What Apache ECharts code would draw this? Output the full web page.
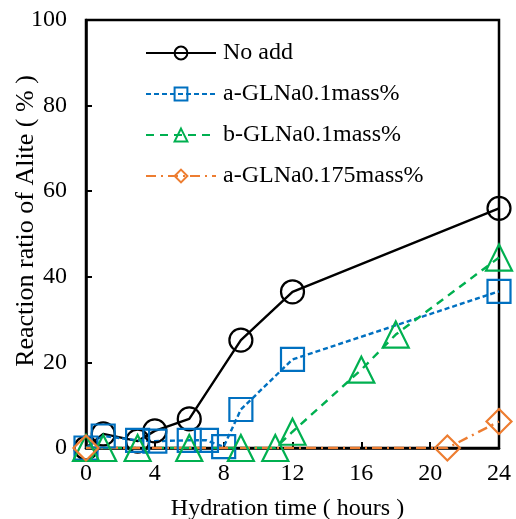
<!DOCTYPE html>
<html>
<head>
<meta charset="utf-8">
<script src="https://cdn.jsdelivr.net/npm/echarts@6/dist/echarts.min.js"></script>
<style>
  html, body { margin: 0; padding: 0; background: #fff; }
  #main { width: 516px; height: 519px; }
</style>
</head>
<body>
<div id="main"></div>
<script>
// data: [hours, reaction ratio %]
let noAdd = [[0, 0], [1, 3.3], [3, 1.6], [4, 4.0], [6, 6.8], [9, 25.2], [12, 36.5], [24, 56]];
let aGLNa01 = [[0, 0], [1, 2.8], [3, 1.8], [4, 1.6], [6, 1.8], [7, 1.8], [8, 0.3], [9, 9], [12, 20.7], [24, 36.6]];
let bGLNa01 = [[0, 0], [1, 0], [3, 0], [6, 0], [9, 0], [11, 0], [12, 3.8], [16, 18.3], [18, 26.5], [24, 44.5]];
let aGLNa0175 = [[0, 0], [21, 0], [24, 6.2]];
let seriesNames = ['No add', 'a-GLNa0.1mass%', 'b-GLNa0.1mass%', 'a-GLNa0.175mass%'];

let font = 'Liberation Serif';

let myChart = echarts.init(document.getElementById('main'));

let makeSeries = function(name, data, color, dash, symbol, size){
    return {
        name: name,
        type: 'line',
        data: data,
        symbol: symbol,
        symbolSize: size,
        lineStyle: { color: color, width: 2.4, type: dash },
        itemStyle: { color: 'rgba(0,0,0,0)', borderColor: color, borderWidth: 2.2 },
        emphasis: { disabled: true },
        animation: false
    };
};

let option = {
    animation: false,
    grid: {
        left: 86, right: 17, top: 20, bottom: 71,
        containLabel: false, outerBoundsMode: 'none',
        show: true, borderColor: '#000', borderWidth: 2.5
    },
    legend: {
        orient: 'vertical',
        left: 145, top: 41, padding: 0,
        itemWidth: 70, itemHeight: 16, itemGap: 17,
        data: seriesNames,
        textStyle: { fontFamily: font, fontSize: 24, color: '#000', padding: [0, 0, 0, 2] }
    },
    xAxis: {
        type: 'value', min: 0, max: 24, interval: 4,
        name: 'Hydration time ( hours )',
        nameLocation: 'middle', nameGap: 49, nameMoveOverlap: false,
        nameTextStyle: { fontFamily: font, fontSize: 24, color: '#000', padding: [0, 10, 0, 0] },
        axisLine: { lineStyle: { color: '#000', width: 2.5 } },
        axisTick: { inside: true, length: 6, lineStyle: { color: '#000', width: 2 } },
        axisLabel: { fontFamily: font, fontSize: 24, color: '#000', margin: 14 },
        splitLine: { show: false }
    },
    yAxis: {
        type: 'value', min: 0, max: 100, interval: 20,
        name: 'Reaction ratio of Alite ( % )',
        nameLocation: 'middle', nameGap: 47, nameMoveOverlap: false,
        nameTextStyle: { fontFamily: font, fontSize: 26, color: '#000', padding: [0, 0, 0, 26] },
        axisLine: { show: true, lineStyle: { color: '#000', width: 2.5 } },
        axisTick: { show: true, inside: true, length: 6, lineStyle: { color: '#000', width: 2 } },
        axisLabel: { fontFamily: font, fontSize: 24, color: '#000', margin: 19 },
        splitLine: { show: false }
    },
    series: [
        makeSeries(seriesNames[0], noAdd, '#000000', 'solid', 'circle', 23),
        makeSeries(seriesNames[1], aGLNa01, '#0070C0', [5, 3], 'rect', 23),
        makeSeries(seriesNames[2], bGLNa01, '#00B050', [8, 6], 'triangle', 26),
        makeSeries(seriesNames[3], aGLNa0175, '#ED7D31', [10, 5, 2, 5], 'diamond', 25)
    ]
};

myChart.setOption(option);
</script>
</body>
</html>
